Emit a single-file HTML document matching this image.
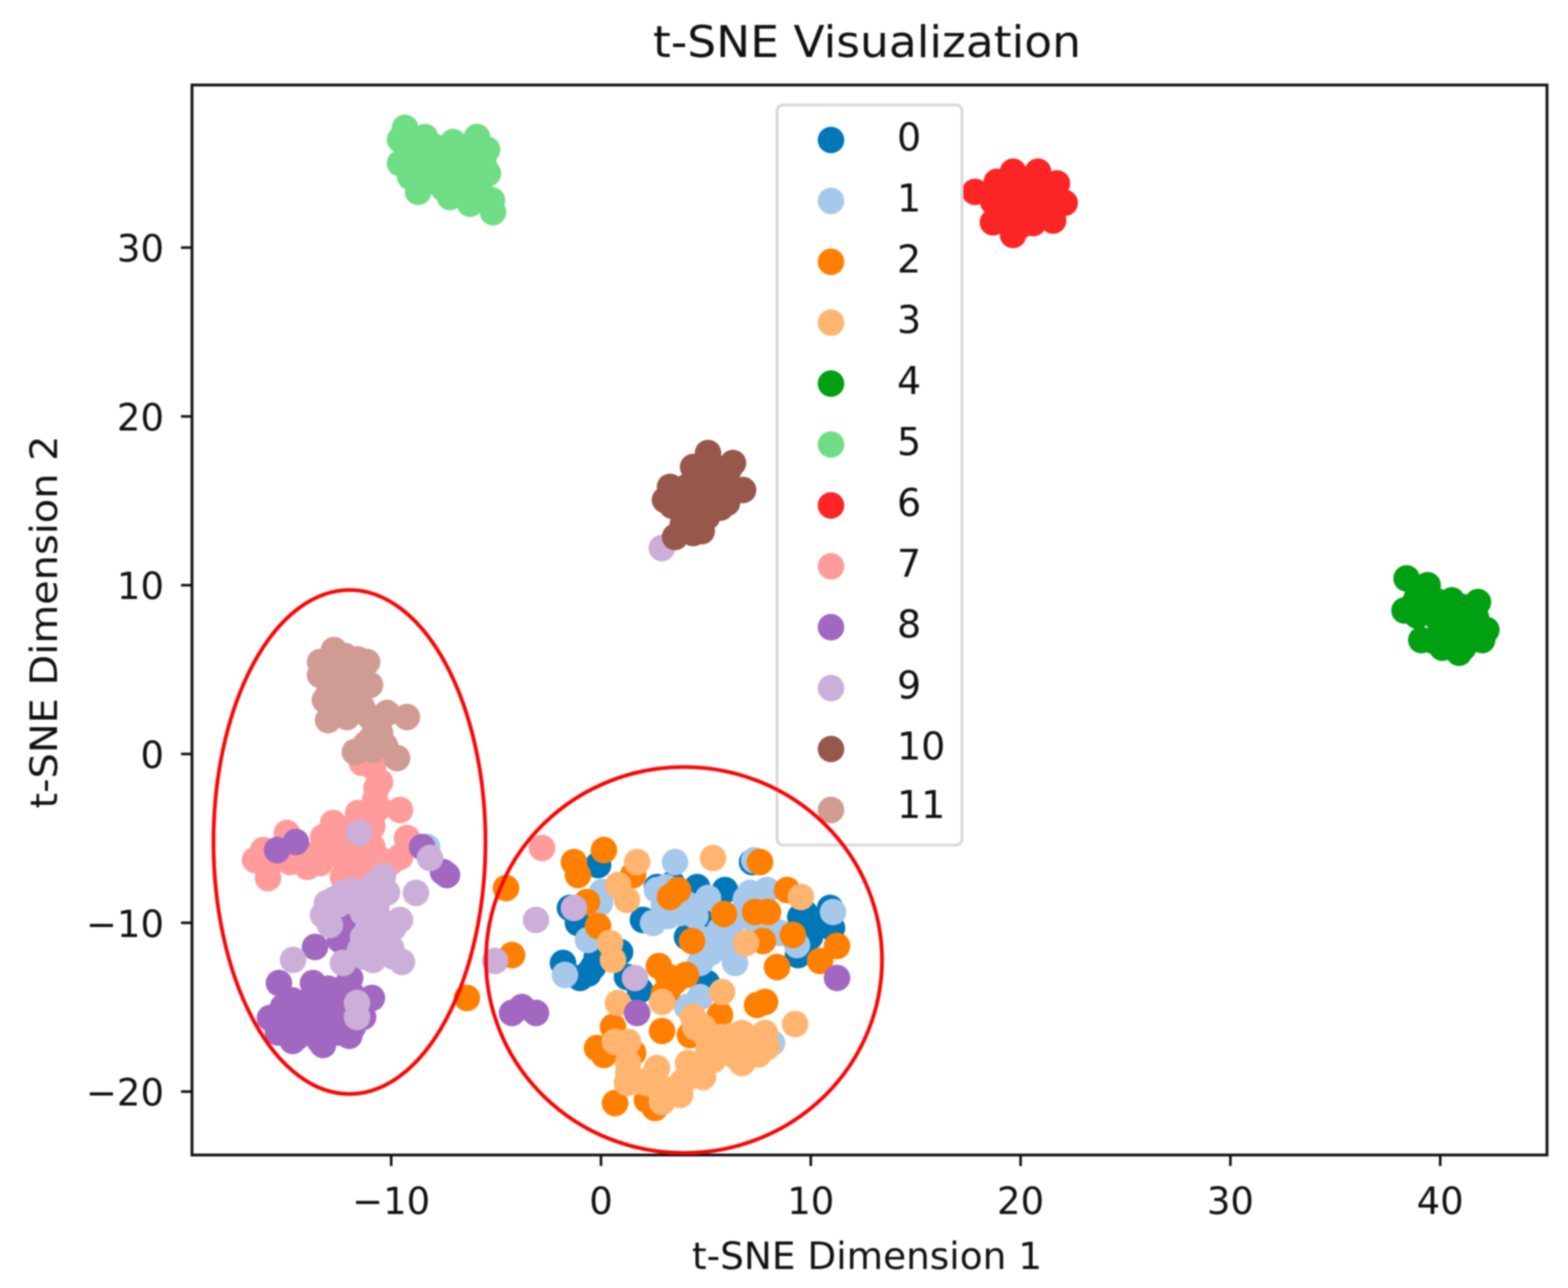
<!DOCTYPE html>
<html lang="en">
<head>
<meta charset="utf-8">
<title>t-SNE Visualization</title>
<style>
html,body{margin:0;padding:0;background:#fff;}
#chart{display:block;width:1568px;height:1288px;filter:blur(0.8px);}
text{font-family:"DejaVu Sans","Liberation Sans",sans-serif;fill:#111;}
</style>
</head>
<body>
<svg id="chart" xmlns="http://www.w3.org/2000/svg" width="1568" height="1288" viewBox="0 0 1568 1288">
  <rect x="0" y="0" width="1568" height="1288" fill="#fff"/>
  <g id="marks"></g>
  <rect x="192" y="85" width="1355" height="1070" fill="none" stroke="#111" stroke-width="2.8"/>
  <g id="x-axis"></g>
  <g id="y-axis"></g>
  <text x="867" y="57" text-anchor="middle" font-size="44" textLength="428" lengthAdjust="spacingAndGlyphs">t-SNE Visualization</text>
  <text x="867" y="1269" text-anchor="middle" font-size="37" textLength="350" lengthAdjust="spacingAndGlyphs">t-SNE Dimension 1</text>
  <text x="0" y="0" transform="translate(57,622) rotate(-90)" text-anchor="middle" font-size="37" textLength="373" lengthAdjust="spacingAndGlyphs">t-SNE Dimension 2</text>
  <rect x="777" y="105" width="185" height="740" rx="6" ry="6" fill="#fff" fill-opacity="0.85" stroke="#d8d8d8" stroke-width="2.8"/>
  <g id="legend"></g>
  <ellipse cx="349.5" cy="842" rx="136" ry="252" fill="none" stroke="#f70808" stroke-width="3.8"/>
  <ellipse cx="684" cy="960" rx="198" ry="193" fill="none" stroke="#f70808" stroke-width="3.8"/>
</svg>
<script>
const categories = ["0","1","2","3","4","5","6","7","8","9","10","11"];
const xTicks = [-10,0,10,20,30,40];
const yTicks = [-20,-10,0,10,20,30];

const class0 = [[-0.14,-6.58],[-1.48,-9.12],[-1.10,-10.01],[2.00,-9.83],[2.67,-7.88],[4.58,-7.88],[5.91,-8.06],[7.20,-6.40],[4.10,-10.84],[5.05,-13.57],[-1.81,-12.38],[-0.38,-12.62],[-1.00,-13.27],[1.24,-13.21],[1.86,-13.98],[9.72,-9.42],[10.92,-9.12],[11.01,-10.31],[9.39,-11.91],[9.96,-10.84],[4.72,-9.83],[0.91,-11.73],[-0.2,-12.0],[4.39,-9.42],[10.1,-10.0],[9.5,-9.65],[-0.6,-13.0],[0.0,-12.1],[3.4,-7.7],[9.6,-11.2]];
const class1 = [[3.53,-6.40],[7.3,-6.3],[0.05,-8.18],[-0.05,-8.83],[-0.62,-11.02],[2.67,-8.06],[2.48,-10.01],[3.77,-9.42],[5.10,-8.53],[7.10,-8.23],[7.91,-8.06],[5.82,-10.84],[5.20,-11.79],[4.72,-12.38],[6.39,-12.38],[5.67,-10.43],[8.53,-10.60],[9.34,-11.32],[11.06,-9.36],[-1.72,-13.09],[4.72,-14.40],[4.10,-14.99],[8.15,-17.12],[-8.29,-5.51],[3.0,-9.0],[4.5,-9.6],[7.0,-9.6],[6.6,-11.2],[6.3,-9.9],[6.0,-10.0],[6.9,-8.6],[6.7,-9.5],[7.5,-9.0],[8.0,-10.1],[7.4,-10.0],[6.1,-11.6],[5.5,-11.5],[4.9,-11.0],[3.1,-7.9],[3.6,-8.6],[3.2,-9.6],[4.1,-8.9]];
const class2 = [[0.14,-5.69],[-1.29,-6.40],[-1.10,-7.17],[1.53,-7.17],[-4.53,-7.94],[-0.67,-8.77],[-0.14,-10.19],[7.58,-6.40],[3.29,-8.47],[3.67,-8.06],[8.87,-8.06],[5.86,-9.48],[7.34,-9.36],[7.96,-9.36],[4.34,-11.08],[7.72,-11.08],[9.15,-10.72],[8.39,-12.62],[11.25,-11.37],[10.44,-12.26],[-4.24,-11.91],[2.76,-12.56],[4.05,-13.09],[3.19,-13.98],[7.44,-14.87],[7.82,-14.69],[5.67,-15.46],[0.57,-16.17],[2.91,-16.41],[4.24,-16.65],[-0.19,-17.42],[0.14,-17.83],[1.53,-17.71],[0.67,-20.68],[2.57,-20.97],[2.19,-20.5],[-6.39,-14.45],[3.2,-13.2],[3.5,-13.5],[3.0,-14.2]];
const class3 = [[1.72,-6.40],[5.34,-6.16],[0.81,-7.76],[1.24,-8.65],[9.53,-8.47],[6.91,-11.20],[0.43,-11.20],[0.57,-12.20],[5.77,-14.10],[2.91,-14.69],[0.81,-14.75],[9.25,-16.0],[4.39,-15.58],[4.86,-16.17],[0.67,-17.06],[1.29,-17.06],[5.05,-16.77],[5.67,-16.77],[6.72,-16.53],[7.82,-16.53],[7.91,-17.36],[6.96,-17.54],[6.72,-18.31],[6.0,-17.36],[5.34,-18.13],[4.86,-19.14],[4.15,-18.31],[4.10,-19.2],[1.29,-18.31],[1.24,-19.49],[2.67,-18.6],[2.67,-19.73],[3.77,-20.2],[2.91,-20.62],[2.19,-19.49],[7.24,-17.36],[5.3,-17.2],[6.4,-17.9],[7.2,-16.9],[6.2,-16.7],[5.1,-17.7],[4.6,-18.6],[3.9,-19.4],[3.3,-19.9],[7.5,-17.8],[1.7,-19.4],[1.3,-18.9],[2.4,-19.2],[3.0,-20.3],[4.5,-16.2],[5.6,-17.8]];
const class4 = [[38.4,10.4],[39.4,10.0],[38.3,8.5],[39.1,6.75],[40.55,9.1],[41.8,9.0],[42.0,6.75],[40.9,6.0],[40.1,6.3],[40.5,7.5],[41.3,7.5],[39.5,8.5],[38.9,9.3],[40.0,7.75],[41.7,8.1],[41.1,6.3],[39.75,9.1],[42.2,7.35],[38.9,8.2],[39.3,9.3],[39.9,8.0],[40.5,8.4],[41.1,8.7],[41.0,7.0],[41.6,7.0],[40.3,7.0],[39.7,6.7],[38.7,8.8],[40.8,6.8],[41.3,8.0]];
const class5 = [[-9.34,37.1],[-9.58,36.4],[-9.58,35.0],[-8.39,36.55],[-7.05,36.25],[-5.91,36.55],[-5.43,35.8],[-5.39,34.4],[-5.2,32.8],[-5.15,32.1],[-6.24,32.6],[-7.2,33.0],[-8.72,33.3],[-9.1,34.2],[-7.8,35.2],[-6.86,34.8],[-6.24,35.4],[-8.63,35.4],[-5.9,34.0],[-7.8,34.0],[-7.05,33.8],[-9.0,35.7],[-8.7,34.6],[-8.0,36.0],[-7.4,35.6],[-6.8,35.8],[-6.3,36.0],[-7.3,34.6],[-6.5,34.2],[-8.3,33.9],[-6.6,33.2],[-5.7,33.2],[-5.6,35.0],[-8.9,36.2],[-7.5,33.5],[-6.0,33.7]];
const class6 = [[17.83,33.3],[18.87,33.9],[19.64,34.5],[20.83,34.5],[21.73,33.8],[22.1,32.65],[21.55,31.6],[20.6,31.45],[19.64,30.75],[18.68,31.5],[19.0,32.4],[19.83,33.0],[20.78,33.0],[21.4,32.4],[20.1,32.05],[19.4,32.9],[20.2,33.5],[20.3,32.8],[19.3,31.7],[20.0,31.3],[21.0,32.2],[21.2,33.2],[18.7,32.7],[20.8,31.9],[19.6,33.6]];
const class7 = [[-2.81,-5.57],[-10.53,-1.66],[-10.87,-0.77],[-11.39,-0.53],[-10.77,-2.73],[-9.58,-3.32],[-11.58,-3.5],[-12.77,-4.09],[-13.25,-4.92],[-13.63,-6.28],[-14.97,-4.68],[-16.49,-6.28],[-15.87,-7.35],[-16.1,-5.69],[-14.82,-6.4],[-14.0,-6.69],[-13.39,-6.46],[-11.63,-6.28],[-10.68,-6.1],[-12.3,-7.29],[-11.34,-7.05],[-9.58,-6.1],[-9.25,-4.98],[-11.34,-4.3],[-10.7,-2.0],[-10.6,-3.2],[-10.9,-3.7],[-10.9,-4.3],[-12.2,-4.5],[-12.7,-5.2],[-12.5,-6.0],[-13.0,-5.7],[-15.4,-6.2],[-16.0,-6.6],[-14.0,-6.0],[-12.0,-5.6],[-11.2,-6.7],[-10.0,-6.4],[-11.5,-7.8],[-12.2,-7.9],[-10.9,-5.5]];
const class8 = [[-15.44,-5.69],[-14.54,-5.21],[-8.53,-5.51],[-7.34,-7.17],[-7.53,-6.99],[-13.63,-11.43],[-12.44,-11.02],[-12.3,-10.0],[-15.35,-13.57],[-15.78,-15.64],[-14.97,-16.35],[-13.73,-13.57],[-13.25,-17.24],[-11.96,-13.27],[-10.92,-14.45],[-11.82,-16.17],[-14.2,-14.99],[-13.06,-14.75],[-13.87,-16.17],[-12.77,-15.76],[-15.16,-14.99],[-14.49,-16.77],[-13.39,-16.35],[-12.44,-13.98],[-11.34,-15.58],[11.25,-13.27],[1.72,-15.34],[-4.24,-15.34],[-3.77,-14.99],[-3.1,-15.34],[-15.2,-15.8],[-14.5,-15.6],[-14.7,-14.6],[-14.0,-15.2],[-13.5,-15.3],[-13.0,-16.2],[-12.5,-16.5],[-12.2,-15.0],[-12.2,-14.6],[-13.7,-14.3],[-14.2,-16.4],[-13.4,-17.0],[-15.0,-15.4],[-11.9,-14.2],[-13.0,-13.9],[-14.7,-17.0],[-15.4,-16.5],[-12.0,-16.7]];
const class9 = [[-11.53,-4.68],[-8.15,-6.16],[-8.82,-8.23],[-10.39,-7.23],[-12.3,-8.23],[-13.06,-8.83],[-13.25,-9.54],[-12.92,-10.13],[-11.01,-8.23],[-9.58,-9.83],[-11.34,-9.42],[-10.53,-9.83],[-11.34,-10.84],[-10.2,-10.84],[-10.87,-12.2],[-9.49,-12.32],[-12.3,-12.38],[-14.68,-12.2],[-11.63,-14.75],[-11.63,-15.58],[-11.49,-11.61],[-3.1,-9.83],[-1.29,-9.12],[-5.05,-12.26],[1.62,-13.27],[2.9,12.2],[-12.5,-8.9],[-12.0,-8.7],[-11.5,-8.7],[-10.7,-9.0],[-10.2,-8.2],[-10.9,-7.8],[-10.9,-10.8],[-10.5,-11.5],[-11.0,-11.3],[-9.9,-10.3],[-10.0,-11.5],[-11.3,-12.0],[-9.9,-12.0],[-11.0,-9.6],[-12.7,-8.6],[-11.9,-8.1]];
const class10 = [[5.1,17.83],[6.29,17.24],[4.39,17.0],[6.77,15.64],[3.29,15.82],[3.05,15.05],[3.53,12.86],[4.39,13.09],[5.05,14.04],[6.0,14.87],[3.9,14.63],[5.05,16.05],[4.1,15.82],[6.0,16.23],[4.24,13.86],[4.5,15.5],[5.5,15.3],[4.7,14.7],[3.7,15.2],[4.5,14.0],[5.6,15.9],[5.4,17.0],[4.9,16.9],[5.7,14.6],[3.9,13.6],[3.4,14.7],[4.8,13.2],[6.3,15.5],[6.1,16.9]];
const class11 = [[-12.73,6.16],[-13.39,5.45],[-13.39,4.68],[-11.15,5.45],[-11.01,4.09],[-13.16,3.2],[-13.01,2.01],[-12.11,2.19],[-9.25,2.19],[-10.2,2.43],[-11.01,2.19],[-11.73,0.12],[-10.87,0.24],[-9.72,-0.24],[-10.53,1.24],[-12.3,4.56],[-12.3,3.38],[-11.96,5.39],[-12.6,5.0],[-12.7,4.0],[-12.2,3.0],[-12.5,2.6],[-11.5,4.6],[-11.6,3.4],[-11.4,2.8],[-10.7,1.7],[-10.9,1.0],[-11.2,0.6],[-10.3,0.5],[-12.9,5.6],[-11.6,5.6],[-13.0,3.5],[-10.5,2.1],[-12.2,5.8]];

const seriesList = [class0,class1,class2,class3,class4,class5,class6,class7,class8,class9,class10,class11];
const seriesColors = ["#0077b8","#a6c8ea","#ff7f00","#ffb570","#00a012","#6fdd85","#fb2526","#ff9b9b","#a267c0","#cbafd8","#97574a","#cf9b92"];

const SVG_NS = "http://www.w3.org/2000/svg";
function xScale(v){ return 601 + 20.98 * v; }
function yScale(v){ return 754 - 16.88 * v; }
function tickText(v){ return v < 0 ? "\u2212" + Math.abs(v) : String(v); }

const marksGroup = document.getElementById("marks");
seriesList.forEach(function(points, s){
  const group = document.createElementNS(SVG_NS, "g");
  
  
  group.setAttribute("fill", seriesColors[s]);
  points.forEach(function(p){
    const dot = document.createElementNS(SVG_NS, "circle");
    dot.setAttribute("cx", xScale(p[0]));
    dot.setAttribute("cy", yScale(p[1]));
    dot.setAttribute("r", 13.3);
    
    
    group.appendChild(dot);
  });
  marksGroup.appendChild(group);
});

const xAxisGroup = document.getElementById("x-axis");
xTicks.forEach(function(v){
  const px = xScale(v);
  const tick = document.createElementNS(SVG_NS, "line");
  tick.setAttribute("x1", px);
  tick.setAttribute("x2", px);
  tick.setAttribute("y1", 1155);
  tick.setAttribute("y2", 1166);
  tick.setAttribute("stroke", "#111");
  tick.setAttribute("stroke-width", 2.6);
  
  
  xAxisGroup.appendChild(tick);
  const label = document.createElementNS(SVG_NS, "text");
  label.setAttribute("x", px);
  label.setAttribute("y", 1214);
  label.setAttribute("text-anchor", "middle");
  label.setAttribute("font-size", 37);
  
  
  label.textContent = tickText(v);
  xAxisGroup.appendChild(label);
});

const yAxisGroup = document.getElementById("y-axis");
yTicks.forEach(function(v){
  const py = yScale(v);
  const tick = document.createElementNS(SVG_NS, "line");
  tick.setAttribute("x1", 181);
  tick.setAttribute("x2", 192);
  tick.setAttribute("y1", py);
  tick.setAttribute("y2", py);
  tick.setAttribute("stroke", "#111");
  tick.setAttribute("stroke-width", 2.6);
  
  
  yAxisGroup.appendChild(tick);
  const label = document.createElementNS(SVG_NS, "text");
  label.setAttribute("x", 164);
  label.setAttribute("y", py + 14);
  label.setAttribute("text-anchor", "end");
  label.setAttribute("font-size", 37);
  
  
  label.textContent = tickText(v);
  yAxisGroup.appendChild(label);
});

const legendGroup = document.getElementById("legend");
categories.forEach(function(name, i){
  const cy = 140 + i * 60.9;
  const swatch = document.createElementNS(SVG_NS, "circle");
  swatch.setAttribute("cx", 831);
  swatch.setAttribute("cy", cy);
  swatch.setAttribute("r", 13.3);
  swatch.setAttribute("fill", seriesColors[i]);
  
  
  legendGroup.appendChild(swatch);
  const label = document.createElementNS(SVG_NS, "text");
  label.setAttribute("x", 897);
  label.setAttribute("y", i === 11 ? cy + 8 : cy + 10.5);
  label.setAttribute("font-size", 38);
  
  
  label.textContent = name;
  legendGroup.appendChild(label);
});
</script>
</body>
</html>
